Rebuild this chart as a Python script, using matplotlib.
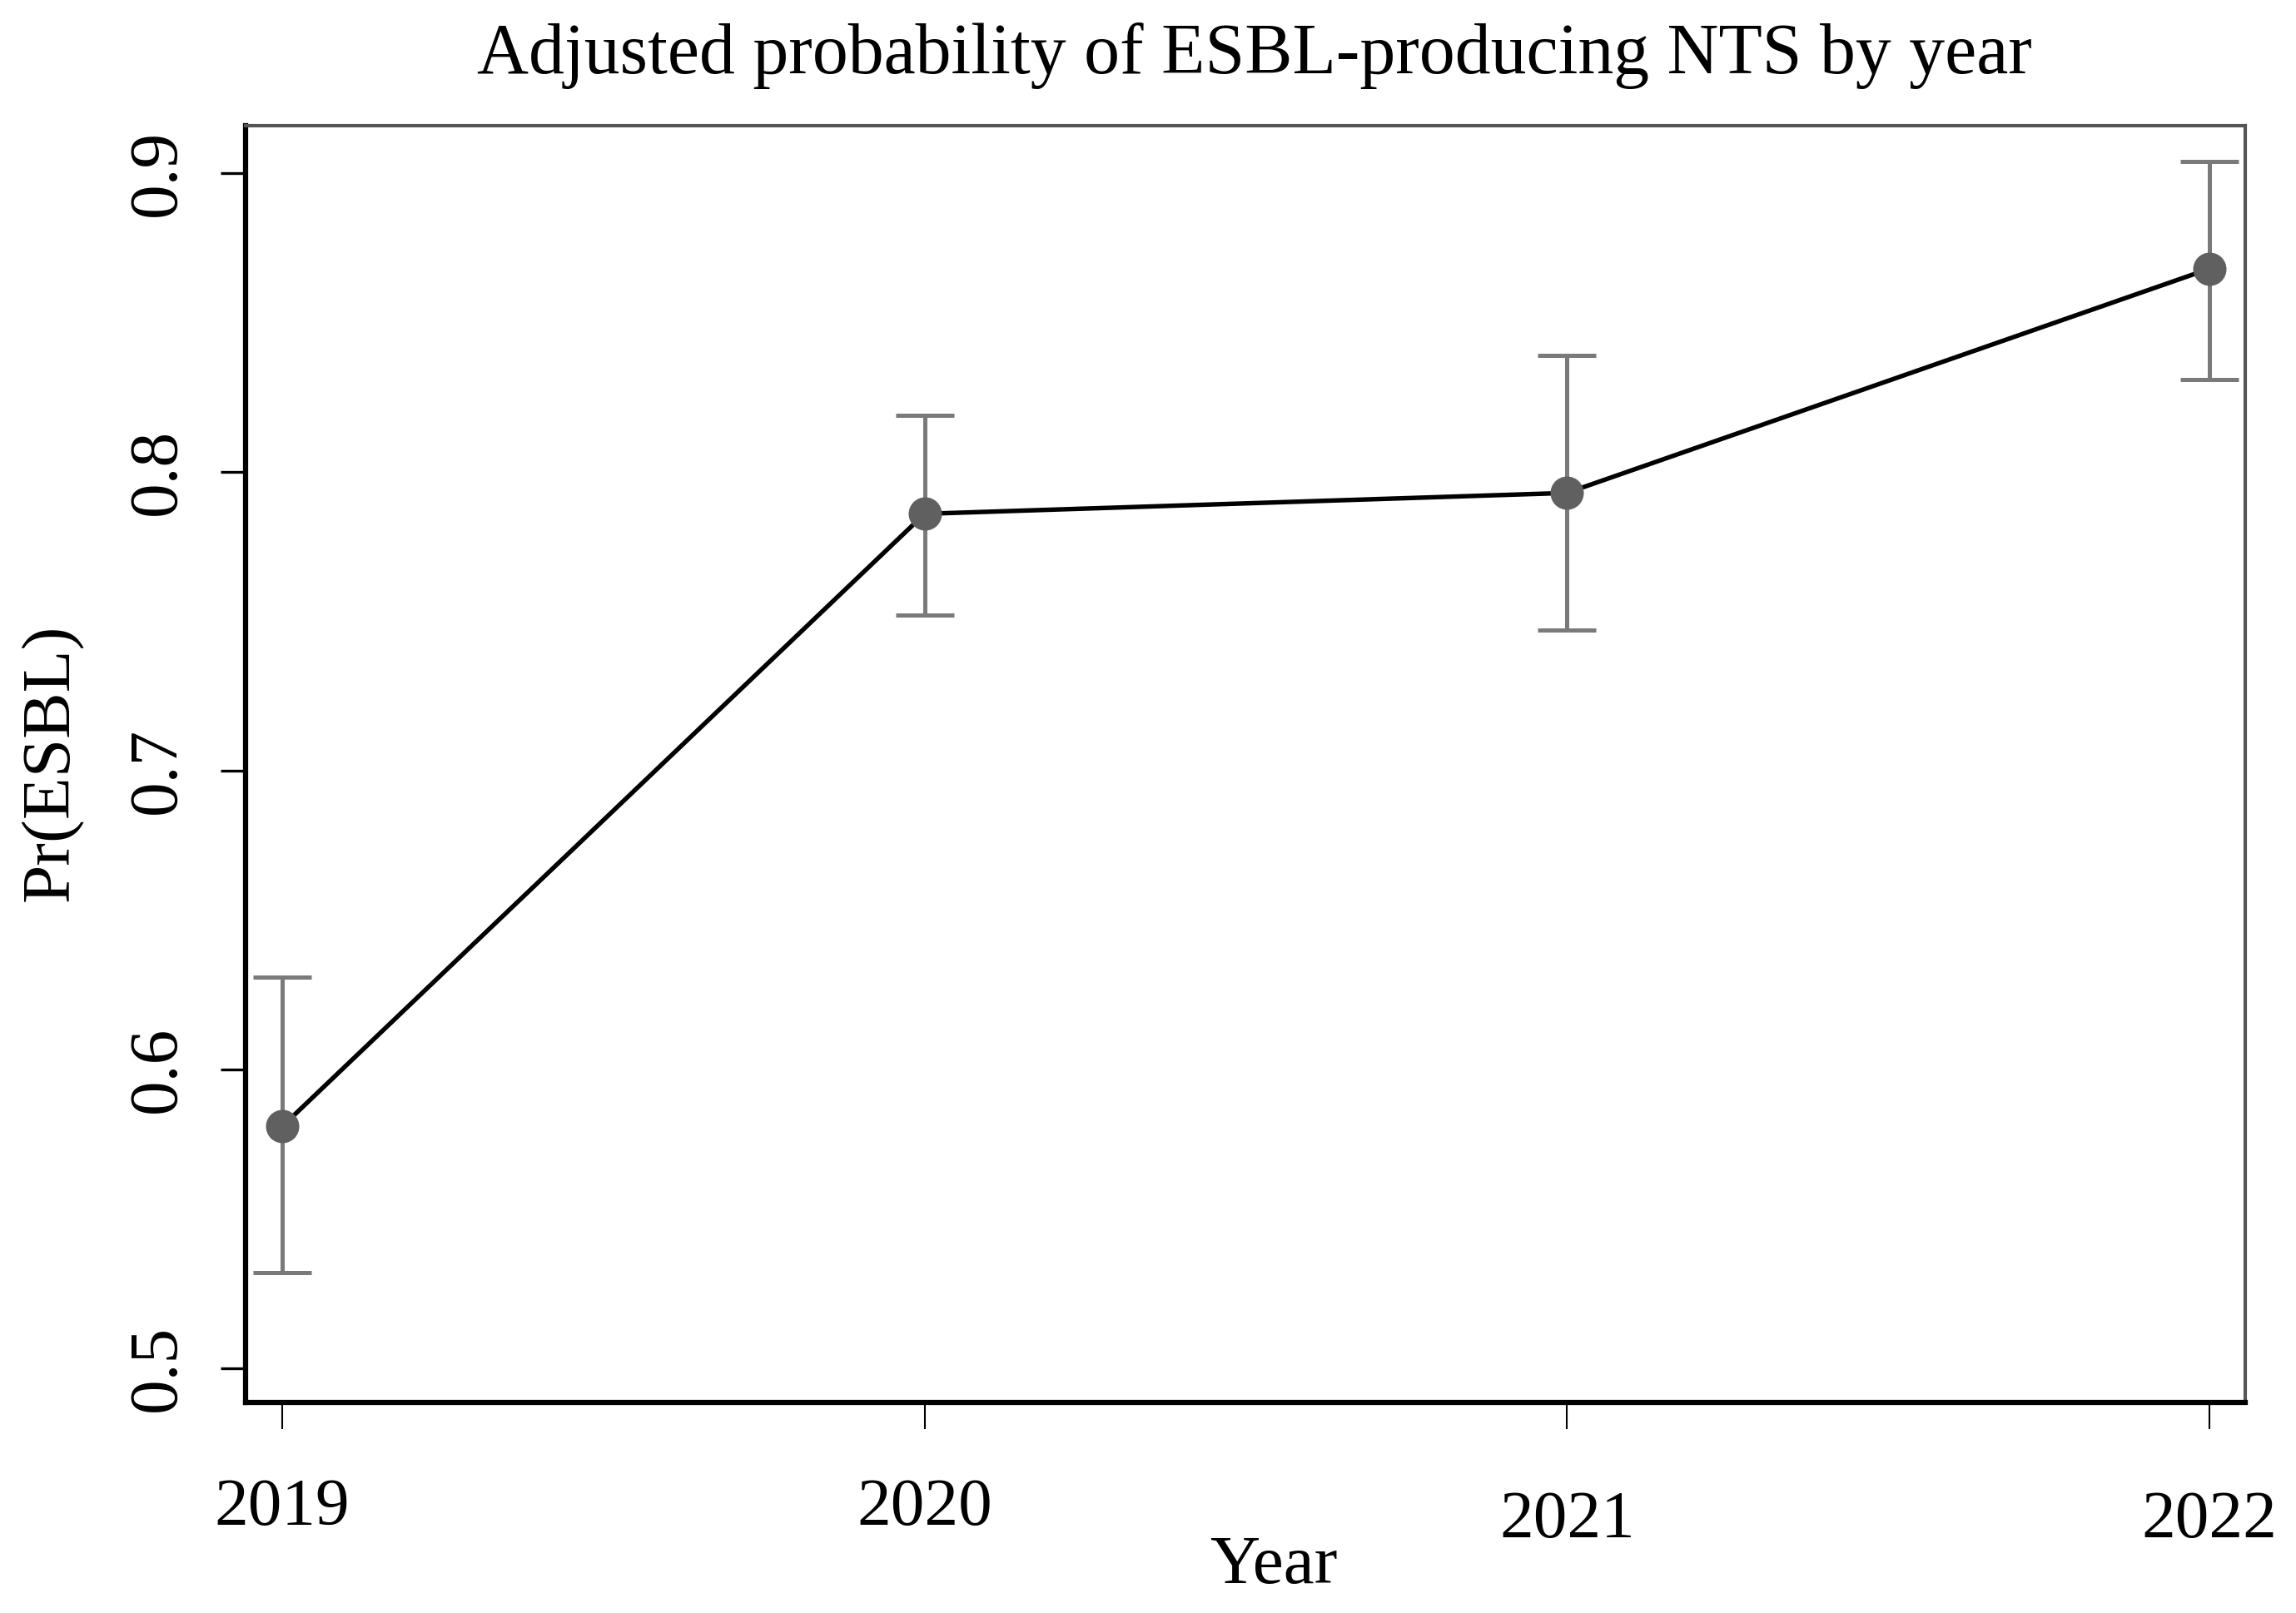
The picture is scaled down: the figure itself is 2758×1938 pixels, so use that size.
import matplotlib
matplotlib.use("Agg")
import matplotlib.pyplot as plt
from matplotlib.transforms import ScaledTranslation

# --- dados ---
anos = [2019, 2020, 2021, 2022]
prob = [0.581, 0.786, 0.793, 0.868]
ic_inf = [0.532, 0.752, 0.747, 0.831]
ic_sup = [0.631, 0.819, 0.839, 0.904]
yticks = [0.5, 0.6, 0.7, 0.8, 0.9]

plt.rcParams['font.family'] = ['Liberation Serif', 'DejaVu Serif']

fig = plt.figure(figsize=(2758 / 300, 1938 / 300), dpi=300)
ax = fig.add_axes([0.1070, 0.1305, 0.8709, 0.7916])

err = [[p - lo for p, lo in zip(prob, ic_inf)],
       [hi - p for p, hi in zip(prob, ic_sup)]]
ax.errorbar(anos, prob, yerr=err, fmt='none', ecolor='#7a7a7a',
            elinewidth=1.2, capsize=8.4, capthick=1.2, zorder=2)
ax.plot(anos, prob, color='black', lw=1.3, zorder=3)
ax.plot(anos, prob, 'o', color='#606060', markersize=8.6, zorder=4)

ax.set_xlim(2018.943, 2022.056)
ax.set_ylim(0.4886, 0.9159)
ax.set_xticks(anos)
ax.set_xticklabels([str(a) for a in anos])
ax.set_yticks(yticks)
ax.set_yticklabels([f'{t:.1f}' for t in yticks])

ax.tick_params(axis='x', length=7.7, width=0.5, pad=14, labelsize=19.5)
ax.tick_params(axis='y', length=7.2, width=0.8, pad=9, labelsize=20)
plt.setp(ax.get_yticklabels(), rotation=90, va='center')

# 2021 e 2022 aparecem um pouco mais abaixo no original
for lbl in ax.get_xticklabels()[2:]:
    lbl.set_transform(lbl.get_transform() +
                      ScaledTranslation(0, -15 / 300, fig.dpi_scale_trans))

for lado in ['left', 'bottom']:
    ax.spines[lado].set_linewidth(1.5)
    ax.spines[lado].set_color('black')
for lado in ['top', 'right']:
    ax.spines[lado].set_linewidth(1.0)
    ax.spines[lado].set_color('#555555')

fig.text(0.5464, 1 - 88 / 1938, 'Adjusted probability of ESBL-producing NTS by year',
         ha='center', va='baseline', fontsize=20.6)
fig.text(0.5548, 1 - 1902 / 1938, 'Year', ha='center', va='baseline', fontsize=20)
fig.text(62 / 2758, 1 - 916 / 1938, 'Pr(ESBL)', rotation=90,
         ha='center', va='center', fontsize=20)

fig.savefig('out.png', dpi=300)
